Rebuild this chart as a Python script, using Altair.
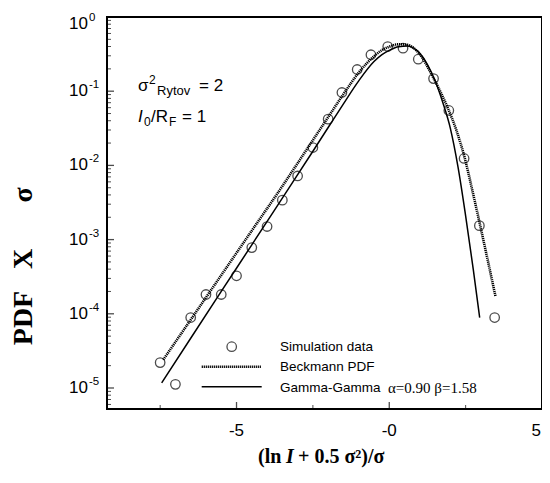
import altair as alt
import pandas as pd

# ---------------- data ----------------
sim_x = [-7.5, -7.0, -6.5, -6.0, -5.5, -5.0, -4.5, -4.0, -3.5, -3.0, -2.5, -2.0,
         -1.55, -1.05, -0.6, -0.05, 0.45, 0.95, 1.45, 1.95, 2.45, 2.95, 3.45]
sim_y = [2.2e-5, 1.12e-5, 8.9e-5, 1.82e-4, 1.82e-4, 3.25e-4, 7.8e-4, 1.5e-3, 3.4e-3,
         7.2e-3, 1.74e-2, 4.2e-2, 9.6e-2, 0.196, 0.31, 0.40, 0.38, 0.27, 0.148,
         0.055, 0.0124, 1.54e-3, 8.9e-5]

beck_x = [-7.4, -6.5, -5.5, -4.5, -3.5, -3.0, -2.5, -2.0, -1.5, -1.0, -0.5, -0.25,
          0.0, 0.3, 0.6, 0.8, 1.0, 1.2, 1.42, 1.7, 1.93, 2.2, 2.47, 2.7, 2.96, 3.48]
beck_y = [2.40e-5, 8.32e-5, 3.31e-4, 1.32e-3, 5.25e-3, 0.0107, 0.0219, 0.0447, 0.0912,
          0.178, 0.295, 0.355, 0.398, 0.429, 0.422, 0.380, 0.316, 0.234, 0.158, 0.0933,
          0.0575, 0.0295, 0.0126, 5.0e-3, 1.66e-3, 1.70e-4]

gg_x = [-7.45, -6.5, -5.5, -4.5, -3.5, -2.5, -2.0, -1.5, -1.0, -0.5, -0.25, 0.0, 0.3,
        0.6, 0.8, 1.0, 1.25, 1.5, 1.75, 2.0, 2.25, 2.5, 2.75, 2.96]
gg_y = [1.17e-5, 4.68e-5, 2.0e-4, 8.5e-4, 3.63e-3, 0.0155, 0.0324, 0.0676, 0.138, 0.251,
        0.309, 0.355, 0.398, 0.407, 0.380, 0.324, 0.229, 0.138, 0.0708, 0.0316,
        9.55e-3, 2.09e-3, 3.98e-4, 8.9e-5]

x_major = [-5, 0, 5]
x_major_labels = ["-5", "-0", "5"]
x_minor = [-7.5, -2.5, 2.5]
y_major = [1, 1e-1, 1e-2, 1e-3, 1e-4, 1e-5]
y_major_exp = ["0", "-1", "-2", "-3", "-4", "-5"]
y_minor = [k * 10.0 ** (-n) for n in range(1, 7) for k in range(2, 10) if k * 10.0 ** (-n) > 5.3e-6]

X_DOMAIN = [-9.24, 5.0]
Y_DOMAIN = [5.21e-6, 1.0]

SANS = "Liberation Sans"
SERIF = "Liberation Serif"

xs = alt.Scale(domain=X_DOMAIN, nice=False, zero=False)
ys = alt.Scale(type="log", domain=Y_DOMAIN, nice=False)

sim_df = pd.DataFrame({"x": sim_x, "y": sim_y})
beck_df = pd.DataFrame({"x": beck_x, "y": beck_y})
gg_df = pd.DataFrame({"x": gg_x, "y": gg_y})
xmaj_df = pd.DataFrame({"x": x_major, "lab": x_major_labels})
xmin_df = pd.DataFrame({"x": x_minor})
ymaj_df = pd.DataFrame({"y": y_major, "exp": y_major_exp})
ymin_df = pd.DataFrame({"y": y_minor})

X = lambda f: alt.X(f, scale=xs, axis=None)
Y = lambda f: alt.Y(f, scale=ys, axis=None)

gg_line = alt.Chart(gg_df).mark_line(color="black", strokeWidth=1.5, interpolate="monotone").encode(
    x=X("x:Q"), y=Y("y:Q"))
beck_line = alt.Chart(beck_df).mark_line(color="black", strokeWidth=2.6, strokeDash=[1.2, 0.8],
                                          interpolate="monotone").encode(x=X("x:Q"), y=Y("y:Q"))
pts = alt.Chart(sim_df).mark_point(shape="circle", size=90, color="black", strokeWidth=1.3,
                                   filled=False).encode(x=X("x:Q"), y=Y("y:Q"))

# ticks (inside the frame)
ymaj_ticks = alt.Chart(ymaj_df).mark_tick(orient="horizontal", size=7, thickness=1.3, color="black").encode(
    x=alt.value(3.5), y=Y("y:Q"))
ymin_ticks = alt.Chart(ymin_df).mark_tick(orient="horizontal", size=4, thickness=1, color="black").encode(
    x=alt.value(2), y=Y("y:Q"))
xmaj_ticks = alt.Chart(xmaj_df).mark_tick(orient="vertical", size=7, thickness=1.3, color="black").encode(
    x=X("x:Q"), y=alt.value(392 - 3.5))
xmin_ticks = alt.Chart(xmin_df).mark_tick(orient="vertical", size=4, thickness=1, color="black").encode(
    x=X("x:Q"), y=alt.value(392 - 2))


# tick labels (the top one sits a little lower so that it stays inside the page)
def ylabels(flt, shift):
    base = alt.Chart(ymaj_df).transform_filter(flt).mark_text(
        text="10", font=SANS, fontSize=17, align="right", baseline="middle",
        dx=-19, dy=shift, color="black").encode(x=alt.value(0), y=Y("y:Q"))
    exp = alt.Chart(ymaj_df).transform_filter(flt).mark_text(
        font=SANS, fontSize=11.5, align="left", baseline="middle",
        dx=-18, dy=shift - 6, color="black").encode(x=alt.value(0), y=Y("y:Q"), text="exp:N")
    return [base, exp]


ylab_layers = ylabels("datum.y < 0.5", 0) + ylabels("datum.y >= 0.5", 7)

xlab_inner = alt.Chart(xmaj_df).transform_filter("datum.x < 4").mark_text(
    font=SANS, fontSize=17, align="center", baseline="middle", color="black").encode(
    x=X("x:Q"), y=alt.value(392 + 22), text="lab:N")
# the right-most label sits at the page edge: right-aligned so it stays visible
xlab_edge = alt.Chart(xmaj_df).transform_filter("datum.x >= 4").mark_text(
    font=SANS, fontSize=17, align="right", baseline="middle", dx=-1, color="black").encode(
    x=X("x:Q"), y=alt.value(392 + 22), text="lab:N")


def txt(s, x, y, size, font=SANS, style="normal", weight="normal", align="left", angle=0):
    kw = dict(text=s, font=font, fontSize=size, fontStyle=style, fontWeight=weight,
              align=align, baseline="middle", color="black")
    if angle:
        kw["angle"] = angle
    return alt.Chart(sim_df.head(1)).mark_text(**kw).encode(x=alt.value(x), y=alt.value(y))


# positions below are in pixels relative to the plot area origin
texts = [
    # annotation
    txt("σ", 31, 69, 17),
    txt("2", 42, 63, 12),
    txt("Rytov", 50, 74, 13),
    txt("= 2", 92, 69, 17),
    txt("I", 31, 100, 17, style="italic"),
    txt("0", 37, 105, 12),
    txt("/R", 44, 100, 17),
    txt("F", 62, 105, 12),
    txt("= 1", 75, 100, 17),
    # legend
    txt("Simulation data", 173, 329.7, 13.5),
    txt("Beckmann PDF", 173, 349.7, 13.5),
    txt("Gamma-Gamma", 173, 370.5, 13.5),
    txt("α=0.90 β=1.58", 281, 370.5, 15, font=SERIF),
    # x axis title
    txt("(ln", 151, 440, 20, font=SERIF, weight="bold"),
    txt("I", 179, 440, 20, font=SERIF, weight="bold", style="italic"),
    txt("+  0.5  σ²)/σ", 191, 440, 20, font=SERIF, weight="bold"),
    # y axis title
    txt("PDF", -83, 301, 28, font=SERIF, weight="bold", align="center", angle=270),
    txt("X", -83, 242, 28, font=SERIF, weight="bold", align="center", angle=270),
    txt("σ", -83, 178, 28, font=SERIF, weight="bold", align="center", angle=270),
]

leg_pt = alt.Chart(sim_df.head(1)).mark_point(shape="circle", size=90, color="black", strokeWidth=1.3,
                                             filled=False).encode(x=alt.value(124.7), y=alt.value(329.7))
leg_dot = alt.Chart(sim_df.head(1)).mark_rule(color="black", strokeWidth=2.6, strokeDash=[1.2, 0.8]).encode(
    x=alt.value(94.7), x2=alt.value(154.7), y=alt.value(349.7))
leg_solid = alt.Chart(sim_df.head(1)).mark_rule(color="black", strokeWidth=1.5).encode(
    x=alt.value(94.7), x2=alt.value(154.7), y=alt.value(369.7))

chart = alt.layer(
    ymin_ticks, ymaj_ticks, xmin_ticks, xmaj_ticks,
    gg_line, beck_line, pts,
    *ylab_layers, xlab_inner, xlab_edge,
    leg_pt, leg_dot, leg_solid,
    *texts,
).properties(
    width=435, height=392,
    autosize=alt.AutoSizeParams(type="none"),
    padding={"left": 99, "top": 9, "right": 0, "bottom": 60},
    background="white",
).configure_view(stroke="black", strokeWidth=2)

chart.save("out.html", embed_options={"renderer": "svg", "actions": False})
